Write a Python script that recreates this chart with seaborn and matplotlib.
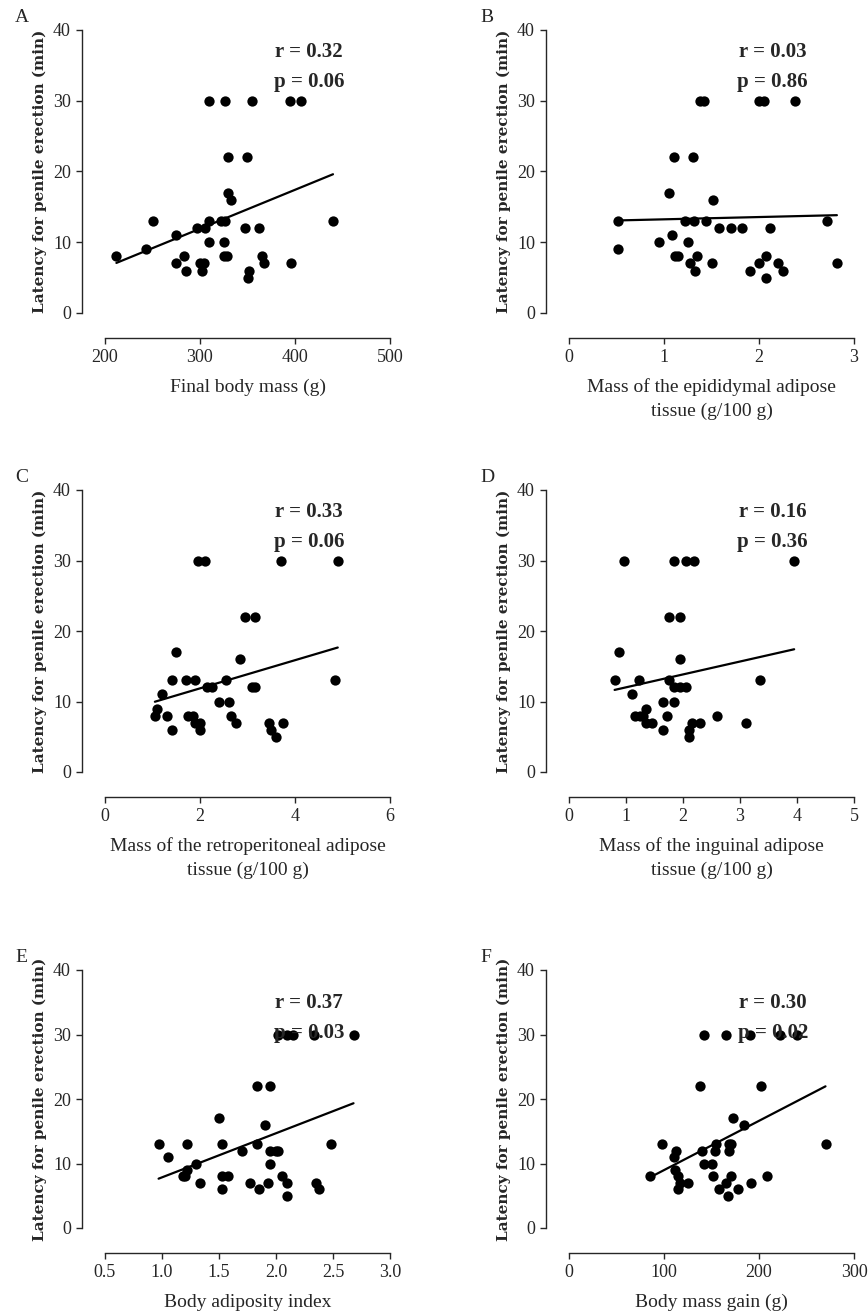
import numpy as np
import pandas as pd
import matplotlib
matplotlib.use("Agg")
import matplotlib.pyplot as plt
import seaborn as sns

sns.set_style("ticks")
plt.rcParams['font.family'] = ['Liberation Serif', 'DejaVu Serif']

# Panel A - final body mass
a_x = [212, 243, 250, 275, 275, 283, 285, 297, 300, 302, 304, 305, 310, 310, 310, 322, 325, 325,
       326, 328, 326, 330, 330, 333, 347, 350, 351, 352, 355, 362, 365, 367, 395, 396, 406, 440]
a_y = [8, 9, 13, 11, 7, 8, 6, 12, 7, 6, 7, 12, 13, 10, 30, 13, 8, 10,
       13, 8, 30, 22, 17, 16, 12, 22, 5, 6, 30, 12, 8, 7, 30, 7, 30, 13]
# Panel B - epididymal adipose tissue
b_x = [0.52, 0.52, 0.95, 1.05, 1.08, 1.1, 1.12, 1.15, 1.22, 1.25, 1.27, 1.3, 1.32, 1.33, 1.35, 1.38,
       1.42, 1.44, 1.5, 1.52, 1.58, 1.7, 1.82, 1.9, 2.0, 2.0, 2.05, 2.07, 2.07, 2.12, 2.2, 2.25,
       2.38, 2.72, 2.82]
b_y = [13, 9, 10, 17, 11, 22, 8, 8, 13, 10, 7, 22, 13, 6, 8, 30,
       30, 13, 7, 16, 12, 12, 12, 6, 7, 30, 30, 8, 5, 12, 7, 6,
       30, 13, 7]
# Panel C - retroperitoneal adipose tissue
c_x = [1.05, 1.1, 1.2, 1.3, 1.4, 1.4, 1.5, 1.7, 1.75, 1.85, 1.9, 1.9, 1.95, 2.0, 2.0, 2.1, 2.15,
       2.25, 2.4, 2.55, 2.6, 2.65, 2.75, 2.85, 2.95, 3.15, 3.1, 3.15, 3.45, 3.5, 3.6, 3.7, 3.75,
       4.85, 4.9]
c_y = [8, 9, 11, 8, 13, 6, 17, 13, 8, 8, 13, 7, 30, 7, 6, 30, 12,
       12, 10, 13, 10, 8, 7, 16, 22, 22, 12, 12, 7, 6, 5, 30, 7,
       13, 30]
# Panel D - inguinal adipose tissue
d_x = [0.8, 0.88, 0.97, 1.1, 1.15, 1.22, 1.25, 1.3, 1.35, 1.35, 1.45, 1.65, 1.65, 1.72, 1.75, 1.75,
       1.85, 1.85, 1.85, 1.95, 1.95, 1.95, 2.05, 2.05, 2.1, 2.1, 2.15, 2.2, 2.3, 2.6, 3.1, 3.35, 3.95]
d_y = [13, 17, 30, 11, 8, 13, 8, 8, 9, 7, 7, 6, 10, 8, 22, 13,
       30, 10, 12, 22, 16, 12, 12, 30, 6, 5, 7, 30, 7, 8, 7, 13, 30]
# Panel E - body adiposity index
e_x = [0.97, 1.05, 1.18, 1.2, 1.22, 1.22, 1.3, 1.33, 1.5, 1.53, 1.53, 1.53, 1.58, 1.7, 1.77, 1.83,
       1.83, 1.85, 1.9, 1.93, 1.95, 1.95, 1.95, 2.0, 2.02, 2.02, 2.05, 2.1, 2.1, 2.1, 2.15, 2.33,
       2.35, 2.38, 2.48, 2.68]
e_y = [13, 11, 8, 8, 13, 9, 10, 7, 17, 13, 8, 6, 8, 12, 7, 22,
       13, 6, 16, 7, 22, 12, 10, 12, 12, 30, 8, 30, 7, 5, 30, 30,
       7, 6, 13, 30]
# Panel F - body mass gain
f_x = [85, 98, 110, 112, 113, 115, 115, 117, 125, 138, 140, 142, 142, 150, 152, 154, 155, 158,
       165, 165, 167, 168, 168, 170, 170, 173, 178, 184, 190, 192, 202, 208, 222, 240, 270]
f_y = [8, 13, 11, 9, 12, 6, 8, 7, 7, 22, 12, 30, 10, 10, 8, 12, 13, 6,
       30, 7, 5, 13, 12, 13, 8, 17, 6, 16, 30, 7, 22, 8, 30, 30, 13]

letters = ["A", "B", "C", "D", "E", "F"]
stats_r = ["r = 0.32", "r = 0.03", "r = 0.33", "r = 0.16", "r = 0.37", "r = 0.30"]
stats_p = ["p = 0.06", "p = 0.86", "p = 0.06", "p = 0.36", "p = 0.03", "p = 0.02"]
xlabels = ["Final body mass (g)",
           "Mass of the epididymal adipose\ntissue (g/100 g)",
           "Mass of the retroperitoneal adipose\ntissue (g/100 g)",
           "Mass of the inguinal adipose\ntissue (g/100 g)",
           "Body adiposity index",
           "Body mass gain (g)"]
xlims = [(200, 500), (0, 3), (0, 6), (0, 5), (0.5, 3.0), (0, 300)]
xticks = [[200, 300, 400, 500], [0, 1, 2, 3], [0, 2, 4, 6], [0, 1, 2, 3, 4, 5],
          [0.5, 1.0, 1.5, 2.0, 2.5, 3.0], [0, 100, 200, 300]]
xs = [a_x, b_x, c_x, d_x, e_x, f_x]
ys = [a_y, b_y, c_y, d_y, e_y, f_y]

W, H = 868, 1313
fig = plt.figure(figsize=(W / 100, H / 100), dpi=100)

lefts = [105, 569]
rows = [(30, 313), (490, 772), (970, 1228)]
stat_y = [(36.9, 32.6), (36.9, 32.6), (34.9, 30.2)]

for i in range(6):
    r, c = divmod(i, 2)
    top, bot = rows[r]
    x0 = lefts[c]
    ax = fig.add_axes([x0 / W, 1 - bot / H, 285 / W, (bot - top) / H])
    df = pd.DataFrame({"x": xs[i], "y": ys[i]})
    sns.regplot(data=df, x="x", y="y", ax=ax, ci=None, color="black",
                scatter_kws={"s": 55, "linewidths": 0, "alpha": 1},
                line_kws={"linewidth": 1.6})
    ax.set_xlim(*xlims[i])
    ax.set_ylim(0, 40)
    ax.set_xticks(xticks[i])
    if i == 4:
        ax.set_xticklabels(["%.1f" % t for t in xticks[i]])
    ax.set_yticks([0, 10, 20, 30, 40])
    sns.despine(ax=ax)
    ax.spines["left"].set_position(("outward", 16.5))
    ax.spines["bottom"].set_position(("outward", 18))
    for s in ["left", "bottom"]:
        ax.spines[s].set_linewidth(1.0)
    ax.tick_params(labelsize=13, length=4, width=1, pad=4)
    ax.set_xlabel(xlabels[i], fontsize=14, labelpad=9, linespacing=1.5)
    ax.set_ylabel("Latency for penile erection (min)", fontsize=11, fontweight="bold",
                  family="DejaVu Serif", labelpad=4)
    ry, py = stat_y[r]
    xm = xlims[i][0] + 0.715 * (xlims[i][1] - xlims[i][0])
    ax.text(xm, ry, stats_r[i], ha="center", va="center", fontsize=15, fontweight="bold")
    ax.text(xm, py, stats_p[i], ha="center", va="center", fontsize=15, fontweight="bold")
    fig.text((15 if c == 0 else 480) / W, 1 - (top - 12) / H, letters[i],
             fontsize=14, ha="left", va="center")

fig.savefig("out.png", dpi=100)
